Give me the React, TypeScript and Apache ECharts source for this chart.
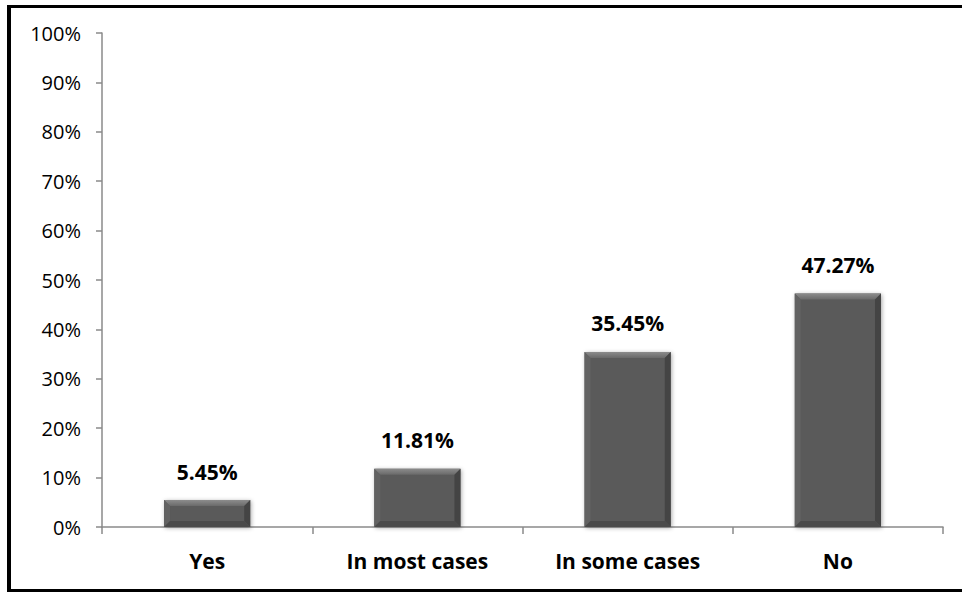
import React, { useEffect, useRef } from "react";
import * as echarts from "echarts";

const categories = ["Yes", "In most cases", "In some cases", "No"];
const shares = [5.45, 11.81, 35.45, 47.27];
const yTicks = { min: 0, max: 100, interval: 10 };

const FONT = "'Open Sans', sans-serif";

export default function App() {
  const ref = useRef<HTMLDivElement>(null);

  useEffect(() => {
    if (!ref.current) return;
    const chart = echarts.init(ref.current, null, { renderer: "svg" });

    // Bevelled bar with its value written above it
    const renderItem = (params: any, api: any) => {
      const idx = api.value(0);
      const val = api.value(1);
      const top = api.coord([idx, val]);
      const base = api.coord([idx, 0]);
      const band = api.size([1, 0])[0];
      const w = band * 0.41;
      const x0 = top[0] - w / 2;
      const y0 = top[1];
      const h = base[1] - top[1];
      const b = Math.min(6, h / 2);
      return {
        type: "group",
        children: [
          {
            type: "rect",
            shape: { x: x0, y: y0, width: w, height: h },
            style: {
              fill: "#5a5a5a",
              shadowBlur: 4,
              shadowColor: "rgba(0,0,0,0.35)",
              shadowOffsetX: 1,
              shadowOffsetY: 1,
            },
          },
          {
            type: "polygon",
            shape: { points: [[x0, y0], [x0 + w, y0], [x0 + w - b, y0 + b], [x0 + b, y0 + b]] },
            style: {
              fill: new echarts.graphic.LinearGradient(0, 0, 0, 1, [
                { offset: 0, color: "#8c8c8c" },
                { offset: 1, color: "#6a6a6a" },
              ]),
            },
          },
          {
            type: "polygon",
            shape: { points: [[x0, y0], [x0 + b, y0 + b], [x0 + b, y0 + h - b], [x0, y0 + h]] },
            style: { fill: "#626262" },
          },
          {
            type: "polygon",
            shape: { points: [[x0 + w, y0], [x0 + w - b, y0 + b], [x0 + w - b, y0 + h - b], [x0 + w, y0 + h]] },
            style: { fill: "#444444" },
          },
          {
            type: "polygon",
            shape: { points: [[x0, y0 + h], [x0 + b, y0 + h - b], [x0 + w - b, y0 + h - b], [x0 + w, y0 + h]] },
            style: { fill: "#4a4a4a" },
          },
          {
            type: "text",
            style: {
              text: val.toFixed(2) + "%",
              x: top[0],
              y: y0 - 18,
              align: "center",
              verticalAlign: "bottom",
              font: `bold 21px ${FONT}`,
              fill: "#000",
            },
          },
        ],
      };
    };

    chart.setOption({
      animation: false,
      grid: { left: 102, top: 33, right: 19, bottom: 65 },
      xAxis: {
        type: "category",
        data: categories,
        boundaryGap: true,
        axisLine: { lineStyle: { color: "#8a8a8a", width: 1.5 } },
        axisTick: { show: true, length: 7, lineStyle: { color: "#8a8a8a", width: 1.5 } },
        axisLabel: { color: "#000", fontSize: 21, fontWeight: "bold", fontFamily: FONT, margin: 23 },
      },
      yAxis: {
        type: "value",
        min: yTicks.min,
        max: yTicks.max,
        interval: yTicks.interval,
        splitLine: { show: false },
        axisLine: { show: true, lineStyle: { color: "#8a8a8a", width: 1.5 } },
        axisTick: { show: true, length: 6, lineStyle: { color: "#8a8a8a", width: 1.5 } },
        axisLabel: { color: "#000", fontSize: 20, fontFamily: FONT, margin: 21, formatter: "{value}%" },
      },
      series: [
        {
          type: "custom",
          renderItem,
          data: shares.map((v, i) => [i, v]),
          encode: { x: 0, y: 1 },
        },
      ],
    });

    return () => chart.dispose();
  }, []);

  return (
    <div style={{ position: "absolute", left: 0, top: 0, width: 962, height: 592, background: "#fff" }}>
      <div
        style={{
          position: "absolute",
          left: 7,
          top: 5,
          width: 962,
          height: 581,
          borderLeft: "4px solid #000",
          borderTop: "3px solid #000",
          borderBottom: "3px solid #000",
          boxSizing: "content-box",
        }}
      />
      <div ref={ref} style={{ position: "absolute", left: 0, top: 0, width: 962, height: 592 }} />
    </div>
  );
}
